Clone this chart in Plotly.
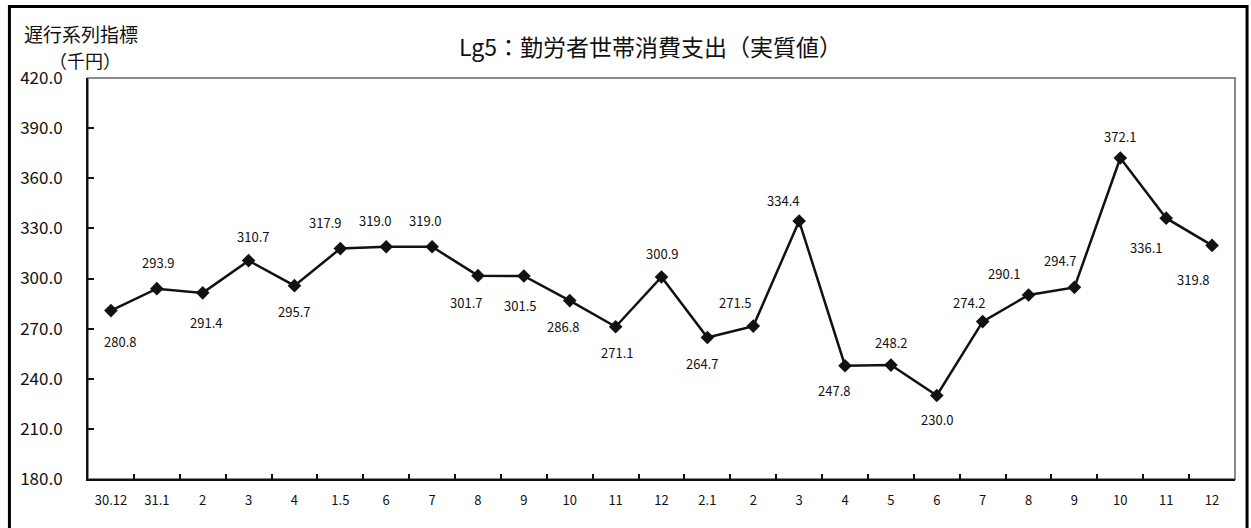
import plotly.graph_objects as go

# 遅行系列指標 Lg5: 勤労者世帯消費支出(実質値), 千円
months = ["30.12", "31.1", "2", "3", "4", "1.5", "6", "7", "8", "9", "10", "11", "12",
          "2.1", "2", "3", "4", "5", "6", "7", "8", "9", "10", "11", "12"]
values = [280.8, 293.9, 291.4, 310.7, 295.7, 317.9, 319.0, 319.0, 301.7, 301.5, 286.8, 271.1, 300.9,
          264.7, 271.5, 334.4, 247.8, 248.2, 230.0, 274.2, 290.1, 294.7, 372.1, 336.1, 319.8]

# label offsets from each point in screen px (dx, dy; dy positive = down)
label_offsets = [(9, 31), (1, -26), (3, 30), (4, -24), (0, 26), (-15, -26), (-11, -26), (-7, -26),
                 (-12, 27), (-4, 30), (-7, 26), (1, 26), (0, -24), (-5, 26), (-18, -24), (-16, -21),
                 (-11, 25), (0, -23), (0, 24), (-14, -19), (-25, -22), (-14, -27), (0, -22),
                 (-20, 29), (-19, 34)]

FONT = "Noto Sans CJK JP"
x = list(range(len(values)))

fig = go.Figure()
fig.add_trace(go.Scatter(
    x=x, y=values, mode="lines+markers",
    line=dict(color="#111111", width=2.5),
    marker=dict(symbol="diamond", size=10.5, color="#111111"),
    hoverinfo="skip", showlegend=False,
))

for xi, v, (dx, dy) in zip(x, values, label_offsets):
    fig.add_annotation(x=xi, y=v, text=f"{v:.1f}", showarrow=False,
                       xshift=dx, yshift=-dy, font=dict(size=13, color="#111111"))

# plot area border (grey top/right) and outer frame
fig.add_shape(type="rect", xref="paper", yref="paper", x0=0, x1=1, y0=0, y1=1,
              line=dict(color="#8a8a8a", width=2), layer="below")
fig.add_shape(type="rect", xref="paper", yref="paper", x0=-0.0685, x1=1.0105, y0=-0.15, y1=1.178,
              line=dict(color="#000000", width=3))

fig.add_annotation(xref="paper", yref="paper", x=-0.0575, y=1.112, xanchor="left", yanchor="middle",
                   text="遅行系列指標", showarrow=False, font=dict(size=19, color="#111111"))
fig.add_annotation(xref="paper", yref="paper", x=-0.036, y=1.045, xanchor="left", yanchor="middle",
                   text="（千円）", showarrow=False, font=dict(size=18, color="#111111"))

fig.update_layout(
    width=1251, height=528,
    template="plotly_white",
    paper_bgcolor="white", plot_bgcolor="white",
    font=dict(family=FONT, color="#111111"),
    title=dict(text="Lg5：勤労者世帯消費支出（実質値）", x=0.52, xanchor="center",
               y=0.909, yanchor="middle", font=dict(size=23, color="#111111")),
    margin=dict(l=88, r=16, t=78, b=49),
    xaxis=dict(
        range=[-0.5, len(values) - 0.5],
        tickvals=x, ticktext=months, ticks="", showgrid=False, zeroline=False,
        showline=True, linecolor="#111111", linewidth=2,
        tickfont=dict(size=13), ticklabelstandoff=8,
        minor=dict(tickvals=[i + 0.5 for i in x[:-1]], ticks="inside", ticklen=5,
                   tickcolor="#111111", tickwidth=1.5, showgrid=False),
    ),
    yaxis=dict(
        range=[180, 420], dtick=30, tickformat=".1f", showgrid=False, zeroline=False,
        showline=True, linecolor="#111111", linewidth=2,
        ticks="inside", ticklen=6, tickcolor="#111111", tickwidth=1.5,
        tickfont=dict(size=17), ticklabelstandoff=20,
    ),
)

fig.write_html("out.html", config={"displayModeBar": False},
               post_script="document.body.style.margin='0';")
